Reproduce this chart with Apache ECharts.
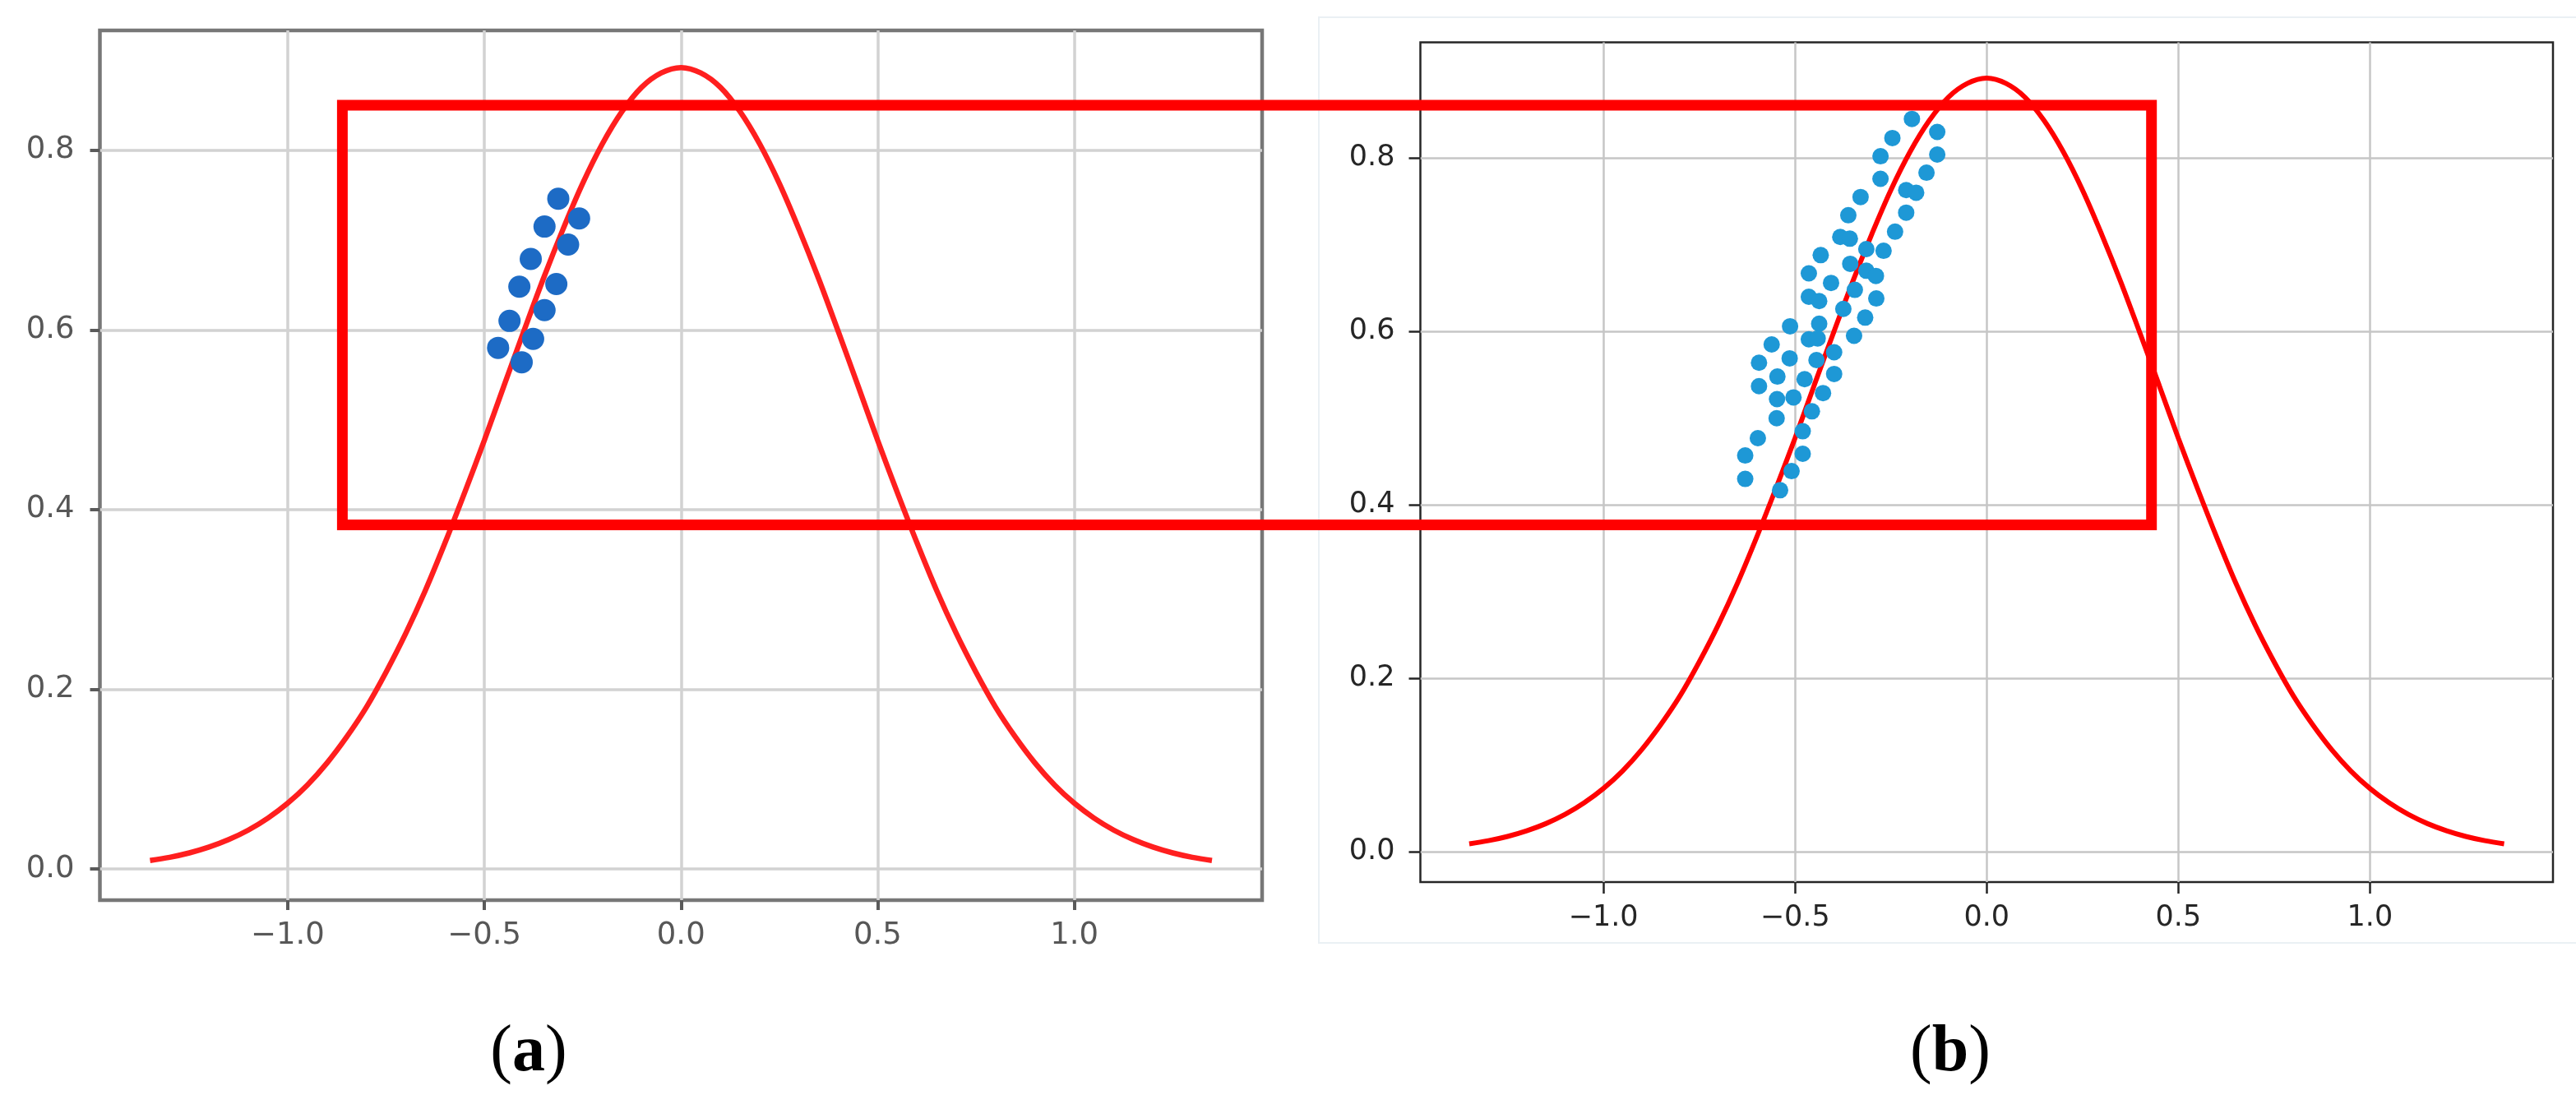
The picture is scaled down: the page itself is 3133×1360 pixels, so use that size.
<!DOCTYPE html>
<html>
<head>
<meta charset="utf-8">
<script src="https://cdn.jsdelivr.net/npm/echarts@6.0.0/dist/echarts.min.js"></script>
<style>
  html, body { margin: 0; padding: 0; background: #fff; }
  #chart { width: 3133px; height: 1360px; }
</style>
</head>
<body>
<div id="chart"></div>
<script>
// the red normal curve (same in both panels)
var curveX = [-1.35, -1.30, -1.25, -1.20, -1.15, -1.10, -1.05, -1.00, -0.95, -0.90, -0.85, -0.80, -0.75, -0.70,
  -0.65, -0.60, -0.55, -0.50, -0.45, -0.40, -0.35, -0.30, -0.25, -0.20, -0.15, -0.10, -0.05, 0.00,
  0.05, 0.10, 0.15, 0.20, 0.25, 0.30, 0.35, 0.40, 0.45, 0.50, 0.55, 0.60, 0.65, 0.70,
  0.75, 0.80, 0.85, 0.90, 0.95, 1.00, 1.05, 1.10, 1.15, 1.20, 1.25, 1.30, 1.35];
var curveY = [0.0094, 0.0130, 0.0179, 0.0244, 0.0327, 0.0433, 0.0567, 0.0732, 0.0934, 0.118, 0.147, 0.180, 0.219, 0.262,
  0.310, 0.363, 0.419, 0.477, 0.538, 0.598, 0.657, 0.712, 0.763, 0.807, 0.843, 0.870, 0.886, 0.892,
  0.886, 0.870, 0.843, 0.807, 0.763, 0.712, 0.657, 0.598, 0.538, 0.477, 0.419, 0.363, 0.310, 0.262,
  0.219, 0.180, 0.147, 0.118, 0.0934, 0.0732, 0.0567, 0.0433, 0.0327, 0.0244, 0.0179, 0.0130, 0.0094];

// (a) points
var aX = [-0.312, -0.259, -0.347, -0.287, -0.382, -0.411, -0.317, -0.347, -0.436, -0.376, -0.465, -0.405];
var aY = [0.746, 0.724, 0.715, 0.695, 0.679, 0.648, 0.651, 0.622, 0.610, 0.590, 0.580, 0.564];

// (b) points
var bX = [-0.195, -0.129, -0.246, -0.129, -0.277, -0.277, -0.157, -0.210, -0.184, -0.329,
  -0.210, -0.361, -0.239, -0.382, -0.357, -0.314, -0.269, -0.433, -0.356, -0.464,
  -0.314, -0.289, -0.406, -0.344, -0.464, -0.437, -0.288, -0.374, -0.317, -0.437,
  -0.513, -0.464, -0.441, -0.346, -0.561, -0.398, -0.594, -0.514, -0.444, -0.546,
  -0.398, -0.475, -0.594, -0.547, -0.504, -0.427, -0.456, -0.548, -0.480, -0.597,
  -0.480, -0.630, -0.509, -0.630, -0.539];
var bY = [0.845, 0.830, 0.823, 0.804, 0.802, 0.776, 0.783, 0.763, 0.760, 0.755,
  0.737, 0.734, 0.715, 0.709, 0.707, 0.695, 0.693, 0.688, 0.678, 0.667,
  0.670, 0.664, 0.656, 0.648, 0.640, 0.635, 0.638, 0.626, 0.616, 0.609,
  0.606, 0.591, 0.592, 0.595, 0.585, 0.576, 0.564, 0.569, 0.567, 0.548,
  0.551, 0.545, 0.537, 0.522, 0.524, 0.529, 0.508, 0.500, 0.485, 0.477,
  0.459, 0.457, 0.439, 0.430, 0.417];

var xTicks = [-1.0, -0.5, 0.0, 0.5, 1.0];
var xTickLabels = ['\u22121.0', '\u22120.5', '0.0', '0.5', '1.0'];
var yTicks = [0.0, 0.2, 0.4, 0.6, 0.8];
var yTickLabels = ['0.0', '0.2', '0.4', '0.6', '0.8'];

// corners of the red box: top-left in (a) data, bottom-right in (b) data
var boxCornerA = [-0.861, 0.850];
var boxCornerB = [0.430, 0.377];

var panelLabels = ['a', 'b'];

var chart = echarts.init(document.getElementById('chart'));

function pairs(xs, ys) {
  return xs.map(function (x, i) { return [x, ys[i]]; });
}

function pickLabel(ticks, labels) {
  return function (v) {
    for (var i = 0; i < ticks.length; i++) {
      if (Math.abs(ticks[i] - v) < 1e-6) return labels[i];
    }
    return '';
  };
}

var looks = [
  { frame: '#777777', frameW: 4.5, split: '#d2d2d2', splitW: 3.5, text: '#575757', font: 37,
    tick: '#5a5a5a', tickW: 4, tickLen: 12, xMargin: 25, dot: '#1d6bc5', dotSize: 27, line: '#ff1f1f', lineW: 6.5 },
  { frame: '#262626', frameW: 2.5, split: '#c6c6c6', splitW: 2.5, text: '#262626', font: 35,
    tick: '#262626', tickW: 2.5, tickLen: 14, xMargin: 26, dot: '#1e98d6', dotSize: 20, line: '#ff0000', lineW: 6 }
];

function xAxisFor(i) {
  var s = looks[i];
  return {
    gridIndex: i, type: 'value', min: -1.4775, max: 1.4775,
    axisLine: { show: false, onZero: false },
    axisTick: { show: true, inside: false, length: s.tickLen, customValues: xTicks,
      lineStyle: { color: s.tick, width: s.tickW } },
    axisLabel: { customValues: xTicks, formatter: pickLabel(xTicks, xTickLabels), margin: s.xMargin,
      color: s.text, fontSize: s.font, fontFamily: 'DejaVu Sans' },
    splitLine: { show: true, lineStyle: { color: s.split, width: s.splitW } }
  };
}

function yAxisFor(i) {
  var s = looks[i];
  return {
    gridIndex: i, type: 'value', min: -0.0347, max: 0.9333,
    axisLine: { show: false, onZero: false },
    axisTick: { show: true, inside: false, length: s.tickLen, customValues: yTicks,
      lineStyle: { color: s.tick, width: s.tickW } },
    axisLabel: { customValues: yTicks, formatter: pickLabel(yTicks, yTickLabels), margin: 31,
      color: s.text, fontSize: s.font, fontFamily: 'DejaVu Sans' },
    splitLine: { show: true, lineStyle: { color: s.split, width: s.splitW } }
  };
}

var curve = pairs(curveX, curveY);

function curveSeries(i) {
  return { type: 'line', xAxisIndex: i, yAxisIndex: i, data: curve, showSymbol: false,
    smooth: 0.35, lineStyle: { color: looks[i].line, width: looks[i].lineW }, z: 3 };
}

function dotSeries(i, xs, ys) {
  return { type: 'scatter', xAxisIndex: i, yAxisIndex: i, data: pairs(xs, ys), symbolSize: looks[i].dotSize,
    itemStyle: { color: looks[i].dot, opacity: 1 }, z: 4 };
}

chart.setOption({
  animation: false,
  backgroundColor: '#ffffff',
  grid: [
    { left: 121.5, top: 37, width: 1413.5, height: 1058, show: true, backgroundColor: 'transparent',
      borderColor: looks[0].frame, borderWidth: looks[0].frameW },
    { left: 1727.5, top: 51.5, width: 1377.5, height: 1021.5, show: true, backgroundColor: 'transparent',
      borderColor: looks[1].frame, borderWidth: looks[1].frameW }
  ],
  xAxis: [xAxisFor(0), xAxisFor(1)],
  yAxis: [yAxisFor(0), yAxisFor(1)],
  series: [
    curveSeries(0),
    dotSeries(0, aX, aY),
    curveSeries(1),
    dotSeries(1, bX, bY)
  ]
});

// the red box spans both panels, so place it after the axes exist
var p0 = chart.convertToPixel({ gridIndex: 0 }, boxCornerA);
var p1 = chart.convertToPixel({ gridIndex: 1 }, boxCornerB);

function panelCaption(i, cx) {
  return {
    type: 'text', x: cx, y: 1281, z: 20,
    style: {
      text: '{p|(}{b|' + panelLabels[i] + '}{p|)}',
      align: 'center', verticalAlign: 'middle',
      rich: {
        p: { fontFamily: 'Liberation Serif', fontSize: 80, fill: '#000' },
        b: { fontFamily: 'Liberation Serif', fontSize: 80, fontWeight: 'bold', fill: '#000' }
      }
    }
  };
}

chart.setOption({
  graphic: [
    { type: 'rect', z: 0, silent: true,
      shape: { x: 1604, y: 21, width: 1560, height: 1126 },
      style: { fill: 'none', stroke: '#eaf0f4', lineWidth: 2 } },
    { type: 'rect', z: 10, silent: true,
      shape: { x: p0[0], y: p0[1], width: p1[0] - p0[0], height: p1[1] - p0[1] },
      style: { fill: 'none', stroke: '#ff0000', lineWidth: 13 } },
    panelCaption(0, 643),
    panelCaption(1, 2372)
  ]
});
</script>
</body>
</html>
